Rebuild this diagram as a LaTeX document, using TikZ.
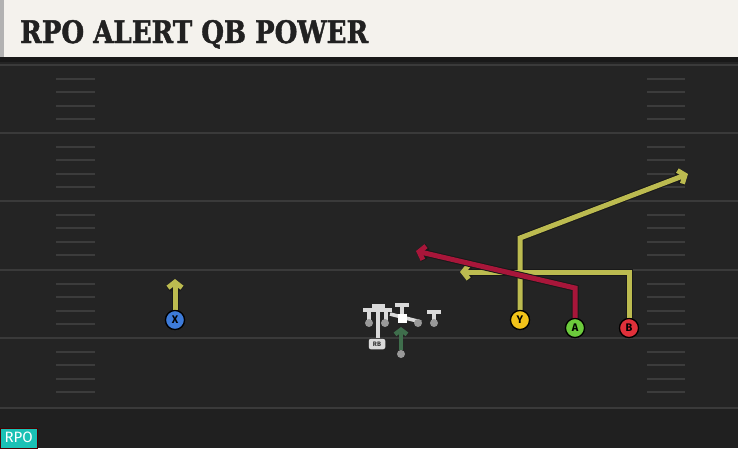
\documentclass[tikz,border=0pt]{standalone}
\usepackage{fontspec}
\usetikzlibrary{arrows.meta}
\newfontfamily\titlefont{DejaVu Serif}[BoldFeatures={FakeBold=1.5}]
\newfontfamily\labelfont{Fira Sans}
\definecolor{fieldbg}{HTML}{242424}
\definecolor{yardline}{HTML}{3A3A3A}
\definecolor{hashc}{HTML}{3C3C3C}
\definecolor{titlebg}{HTML}{F4F2ED}
\definecolor{routey}{HTML}{BCBB50}
\definecolor{router}{HTML}{A8163A}
\definecolor{routeg}{HTML}{3F6E4C}
\definecolor{blockc}{HTML}{DADADA}
\definecolor{olc}{HTML}{999999}
\definecolor{pblue}{HTML}{3D7BD9}
\definecolor{pyellow}{HTML}{F2C319}
\definecolor{pgreen}{HTML}{6CCB3C}
\definecolor{pred}{HTML}{E0303A}
\definecolor{tagc}{HTML}{1BC1B5}
\tikzset{
  player/.style={circle, draw=black, line width=1.2pt, fill=#1, minimum size=19pt, inner sep=0pt, font=\labelfont\bfseries\fontsize{11}{11}\selectfont, text=black},
  routeout/.style={line width=7pt, draw=black!90, line join=miter, -{Straight Barb[length=5.5pt,width=14pt]}},
  routein/.style={line width=5pt, draw=#1, line join=miter, -{Straight Barb[length=5.5pt,width=14pt]}},
  blockln/.style={draw=blockc, line width=3.6pt},
  olman/.style={circle, fill=olc, inner sep=0pt, minimum size=8pt},
  hashmark/.style={draw=hashc, line width=2pt},
  yardln/.style={draw=yardline, line width=2pt}
}
\begin{document}
\begin{tikzpicture}[x=1pt,y=-1pt]
\useasboundingbox (0,0) rectangle (738,448);
% field
\fill[fieldbg] (0,0) rectangle (738,448);
\fill[fieldbg!88!black] (0,408) rectangle (738,448);
% yard lines
\foreach \y in {65,133,201,270,338,408} \draw[yardln] (0,\y) -- (738,\y);
% hash marks
\foreach \b in {65,133,201,270,338} {
  \foreach \k in {1,2,3,4} {
    \draw[hashmark] (56,\b+13.6*\k) -- (95,\b+13.6*\k);
    \draw[hashmark] (647,\b+13.6*\k) -- (685,\b+13.6*\k);
  }
}
% title bar
\fill[black!90] (0,56) rectangle (738,62);
\fill[titlebg] (0,0) rectangle (738,57);
\fill[gray!60] (0,0) rectangle (4,57);
\node[anchor=base west, inner sep=0pt, text=black!87] (title) at (20,43)
  {\resizebox{348pt}{23pt}{\titlefont\bfseries RPO ALERT QB POWER}};
% players
\node[player=pblue] (X) at (175,320) {X};
\node[player=pyellow] (Y) at (520,320) {Y};
\node[player=pgreen] (A) at (575,328) {A};
\node[player=pred] (B) at (629,328) {B};
\coordinate (Xend) at (175,279);
\coordinate (Ybend) at (520,238);
\coordinate (Yend) at (688,174);
\coordinate (Bbend) at (629,272);
\coordinate (Bend) at (460,272);
\coordinate (Abend) at (575,288);
\coordinate (Aend) at (416,251);
% routes (yellow)
\draw[routeout] (X) -- (Xend);
\draw[routein=routey] (X) -- (Xend);
\draw[routeout] (Y) -- (Ybend) -- (Yend);
\draw[routeout] (B) -- (Bbend) -- (Bend);
\draw[routein=routey] (Y) -- (Ybend) -- (Yend);
\draw[routein=routey] (B) -- (Bbend) -- (Bend);
% red route
\draw[routeout] (A) -- (Abend) -- (Aend);
\draw[routein=router] (A) -- (Abend) -- (Aend);
% redraw players on top
\node[player=pblue] at (X) {X};
\node[player=pyellow] at (Y) {Y};
\node[player=pgreen] at (A) {A};
\node[player=pred] at (B) {B};
% offensive line blocking
\draw[blockln] (363,310) -- (392,310);
\draw[blockln] (372,306) -- (385,306);
\draw[blockln] (378,306) -- (378,338);
\draw[blockln] (369,310) -- (369,323);
\draw[blockln] (386,310) -- (386,323);
\draw[blockln] (395,305) -- (409,305);
\draw[blockln] (402,305) -- (402,316);
\draw[blockln] (390,314) -- (421,322);
\draw[blockln] (427,312) -- (441,312);
\draw[blockln] (434,312) -- (434,323);
\node[olman] (LT) at (369,323) {};
\node[olman] (LG) at (385,323) {};
\node[olman] (RG) at (418,323) {};
\node[olman] (RT) at (434,323) {};
\node[fill=white, minimum size=9pt, inner sep=0pt] (C) at (402,318) {};
% RB
\node[draw=black, fill=blockc, rounded corners=2pt, minimum width=17pt, minimum height=11pt, inner sep=0pt,
      font=\labelfont\bfseries\fontsize{6.5}{6.5}\selectfont, text=black!80] (RB) at (377,344) {RB};
% QB
\node[olman] (QB) at (401,354) {};
\coordinate (QBend) at (401,327);
\draw[line width=4.5pt, draw=routeg, -{Straight Barb[length=4.5pt,width=12pt]}] (QB) -- (QBend);
% RPO tag
\node[anchor=south west, fill=tagc, draw=red!30!black, line width=0.5pt, minimum width=37pt, minimum height=20pt, inner sep=0pt,
      text=white, font=\labelfont\fontsize{15}{15}\selectfont] (tag) at (0,448) {RPO};
\end{tikzpicture}
\end{document}
